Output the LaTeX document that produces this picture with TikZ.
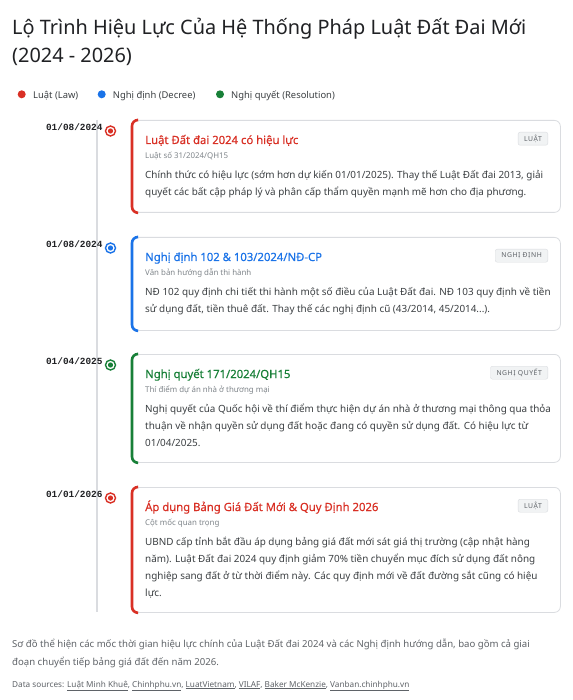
\documentclass[tikz,border=0pt]{standalone}
\usepackage{fontspec}
\setmainfont{Noto Sans}
\newfontfamily\datefont{Liberation Mono}
\usepackage{tikz}
\usetikzlibrary{positioning}
\definecolor{lawRed}{RGB}{217, 48, 37}
\definecolor{decreeBlue}{RGB}{26, 115, 232}
\definecolor{resGreen}{RGB}{24, 128, 56}
\definecolor{inkDark}{RGB}{32, 33, 36}
\definecolor{inkBody}{RGB}{60, 64, 67}
\definecolor{inkGrey}{RGB}{95, 99, 104}
\definecolor{inkLight}{RGB}{128, 134, 139}
\definecolor{lineGrey}{RGB}{218, 220, 224}
\definecolor{badgeFill}{RGB}{241, 243, 244}

\begin{document}
\begin{tikzpicture}[x=1pt, y=-1pt,
  card/.style={draw=lineGrey, fill=white, rounded corners=6pt, line width=0.8pt, minimum width=428pt, anchor=north west},
  cardbar/.style={#1, line width=2.6pt, rounded corners=6pt},
  marker/.style={circle, draw=#1, line width=1.4pt, fill=white, inner sep=0pt, minimum size=10pt,
    path picture={\fill[#1] (path picture bounding box.center) circle (2.6pt);}},
  datelabel/.style={anchor=base east, inner sep=0pt, font=\datefont\bfseries\fontsize{9.4}{11}\selectfont, text=inkDark},
  cardtitle/.style={anchor=base west, inner sep=0pt, font=\fontsize{11.3}{14}\selectfont\addfontfeature{FakeBold=0.35}, text=#1},
  cardsub/.style={anchor=base west, inner sep=0pt, font=\fontsize{7.9}{9}\selectfont, text=inkLight},
  cardbody/.style={anchor=north west, inner sep=0pt, align=left, font=\fontsize{9.9}{17}\selectfont, text=inkBody},
  badge/.style={anchor=north east, draw=lineGrey, fill=badgeFill, rounded corners=2pt, inner xsep=6pt, inner ysep=0pt,
    minimum height=13pt, font=\fontsize{6.8}{7}\selectfont\addfontfeature{LetterSpace=8}, text=inkGrey},
  legdot/.style={circle, fill=#1, inner sep=0pt, minimum size=8pt},
  legtext/.style={anchor=base west, inner sep=0pt, font=\fontsize{9.4}{11}\selectfont, text=inkBody}]
\fill[white] (0,0) rectangle (572,700);
\useasboundingbox (0,0) rectangle (572,700);

% Heading and legend
\node[anchor=north west, inner sep=0pt, align=left, text=inkDark, font=\fontsize{19.9}{28}\selectfont] (heading) at (12,14)
  {\rule{0pt}{20pt}Lộ Trình Hiệu Lực Của Hệ Thống Pháp Luật Đất Đai Mới\\(2024 - 2026)};
\node[legdot=lawRed] (lawdot) at (21.7,94.3) {};
\node[legtext] (lawkey) at (33,98.3) {Luật (Law)};
\node[legdot=decreeBlue] (decreedot) at (101.7,94.3) {};
\node[legtext] (decreekey) at (112.7,98.3) {Nghị định (Decree)};
\node[legdot=resGreen] (resdot) at (220,94.3) {};
\node[legtext] (reskey) at (231,98.3) {Nghị quyết (Resolution)};

% Timeline line
\coordinate (tltop) at (97,120);
\coordinate (tlbot) at (97,612);
\draw[lineGrey, line width=2pt] (tltop) -- (tlbot);

% Card 1: law
\node[card, minimum height=92pt] (lawcard) at (132,120) {};
\draw[cardbar=lawRed] ([xshift=5pt]lawcard.north west) -- (lawcard.north west) -- (lawcard.south west) -- ([xshift=5pt]lawcard.south west);
\node[marker=lawRed] (lawmk) at (110.5,131) {};
\node[datelabel] (lawdate) at (102.7,130.7) {01/08/2024};
\node[cardtitle=lawRed] (lawtitle) at (145,144) {Luật Đất đai 2024 có hiệu lực};
\node[cardsub] (lawsub) at (145,158.7) {Luật số 31/2024/QH15};
\node[cardbody] (lawbody) at (145,167.3) {\rule{0pt}{11pt}Chính thức có hiệu lực (sớm hơn dự kiến 01/01/2025). Thay thế Luật Đất đai 2013, giải\\quyết các bất cập pháp lý và phân cấp thẩm quyền mạnh mẽ hơn cho địa phương.};
\node[badge] (lawtag) at (548,132) {LUẬT};

% Card 2: decree
\node[card, minimum height=93pt] (decreecard) at (132,237) {};
\draw[cardbar=decreeBlue] ([xshift=5pt]decreecard.north west) -- (decreecard.north west) -- (decreecard.south west) -- ([xshift=5pt]decreecard.south west);
\node[marker=decreeBlue] (decreemk) at (110.5,248) {};
\node[datelabel] (decreedate) at (102.7,247.7) {01/08/2024};
\node[cardtitle=decreeBlue] (decreetitle) at (145,261) {Nghị định 102 \& 103/2024/NĐ-CP};
\node[cardsub] (decreesub) at (145,275.7) {Văn bản hướng dẫn thi hành};
\node[cardbody] (decreebody) at (145,284.3) {\rule{0pt}{11pt}NĐ 102 quy định chi tiết thi hành một số điều của Luật Đất đai. NĐ 103 quy định về tiền\\sử dụng đất, tiền thuê đất. Thay thế các nghị định cũ (43/2014, 45/2014...).};
\node[badge] (decreetag) at (548,249) {NGHỊ ĐỊNH};

% Card 3: resolution
\node[card, minimum height=108pt] (rescard) at (132,354) {};
\draw[cardbar=resGreen] ([xshift=5pt]rescard.north west) -- (rescard.north west) -- (rescard.south west) -- ([xshift=5pt]rescard.south west);
\node[marker=resGreen] (resmk) at (110.5,365) {};
\node[datelabel] (resdate) at (102.7,364.7) {01/04/2025};
\node[cardtitle=resGreen] (restitle) at (145,378) {Nghị quyết 171/2024/QH15};
\node[cardsub] (ressub) at (145,392.7) {Thí điểm dự án nhà ở thương mại};
\node[cardbody] (resbody) at (145,401.3) {\rule{0pt}{11pt}Nghị quyết của Quốc hội về thí điểm thực hiện dự án nhà ở thương mại thông qua thỏa\\thuận về nhận quyền sử dụng đất hoặc đang có quyền sử dụng đất. Có hiệu lực từ\\01/04/2025.};
\node[badge] (restag) at (548,366) {NGHỊ QUYẾT};

% Card 4: law 2026
\node[card, minimum height=125pt] (pricecard) at (132,487) {};
\draw[cardbar=lawRed] ([xshift=5pt]pricecard.north west) -- (pricecard.north west) -- (pricecard.south west) -- ([xshift=5pt]pricecard.south west);
\node[marker=lawRed] (pricemk) at (110.5,498) {};
\node[datelabel] (pricedate) at (102.7,497.7) {01/01/2026};
\node[cardtitle=lawRed] (pricetitle) at (145,511) {Áp dụng Bảng Giá Đất Mới \& Quy Định 2026};
\node[cardsub] (pricesub) at (145,525.7) {Cột mốc quan trọng};
\node[cardbody] (pricebody) at (145,534.3) {\rule{0pt}{11pt}UBND cấp tỉnh bắt đầu áp dụng bảng giá đất mới sát giá thị trường (cập nhật hàng\\năm). Luật Đất đai 2024 quy định giảm 70\% tiền chuyển mục đích sử dụng đất nông\\nghiệp sang đất ở từ thời điểm này. Các quy định mới về đất đường sắt cũng có hiệu\\lực.};
\node[badge] (pricetag) at (548,499) {LUẬT};

% Caption and sources
\node[anchor=north west, inner sep=0pt, align=left, text=inkGrey, font=\fontsize{9.6}{18}\selectfont] (caption) at (12,636)
  {\rule{0pt}{11pt}Sơ đồ thể hiện các mốc thời gian hiệu lực chính của Luật Đất đai 2024 và các Nghị định hướng dẫn, bao gồm cả giai\\đoạn chuyển tiếp bảng giá đất đến năm 2026.};
\node[anchor=base west, inner sep=0pt, text=inkGrey, font=\fontsize{8.2}{9}\selectfont] (sources) at (12,687)
  {Data sources: \underline{Luật Minh Khuê}, \underline{Chinhphu.vn}, \underline{LuatVietnam}, \underline{VILAF}, \underline{Baker McKenzie}, \underline{Vanban.chinhphu.vn}};
\end{tikzpicture}
\end{document}
